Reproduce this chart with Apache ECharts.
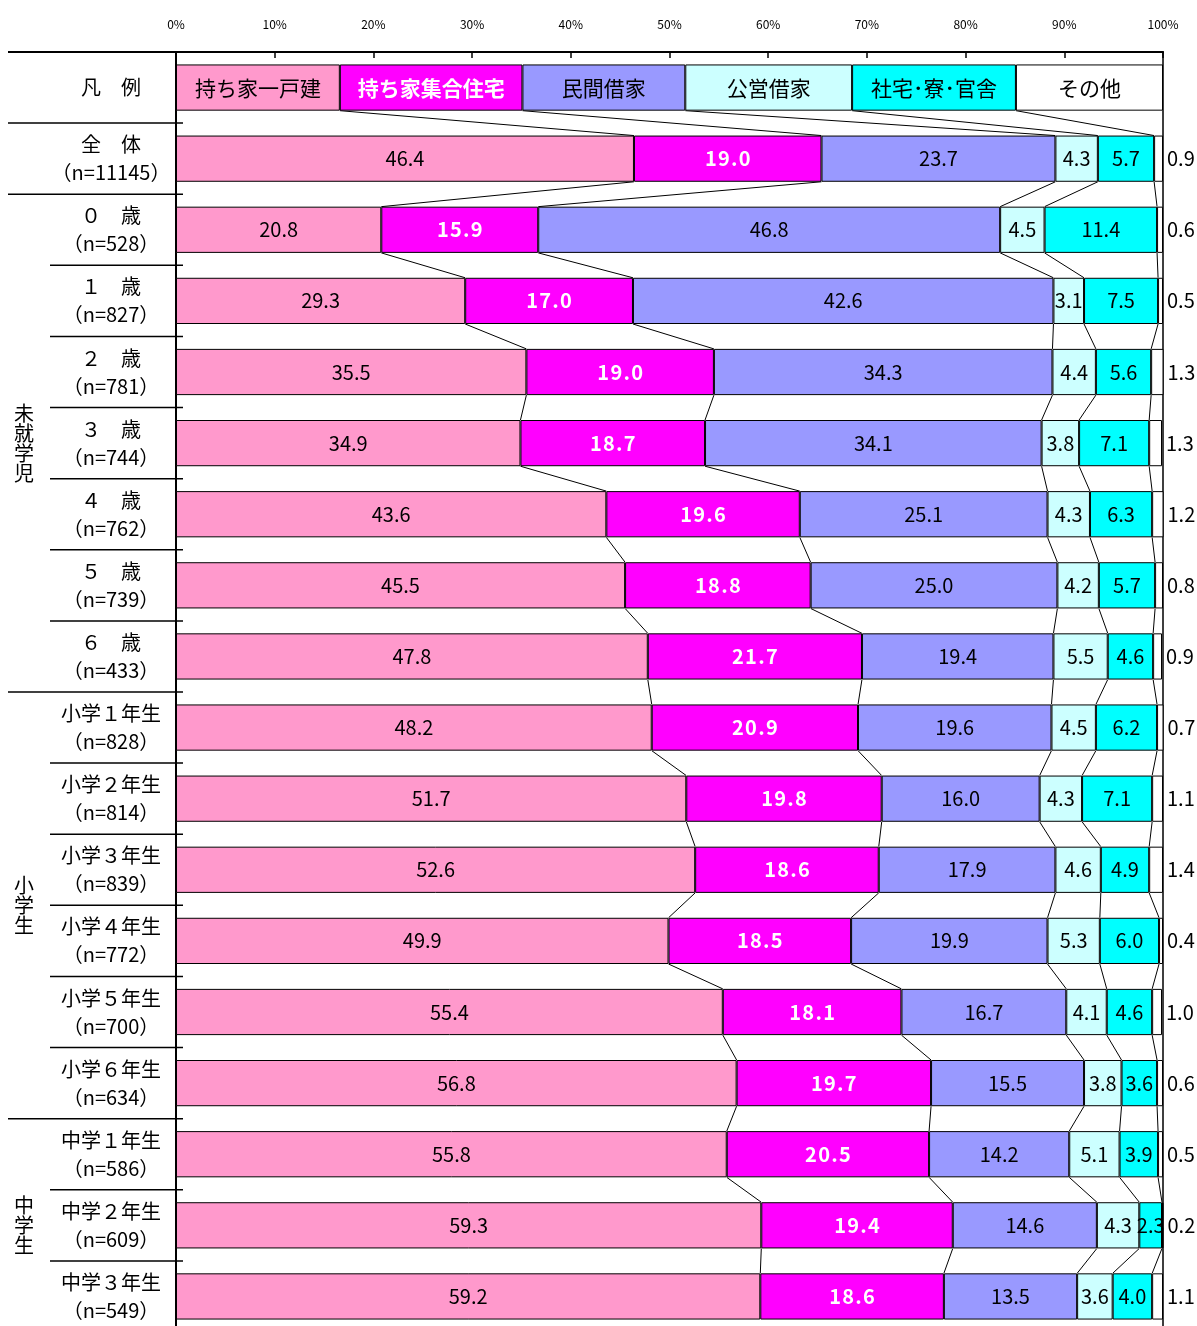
<!DOCTYPE html>
<html>
<head>
<meta charset="utf-8">
<script src="https://cdn.jsdelivr.net/npm/echarts@6/dist/echarts.min.js"></script>
<style>
  html, body { margin: 0; padding: 0; background: #fff; overflow: hidden; }
  #main { width: 1197px; height: 1340px; }
</style>
</head>
<body>
<div id="main"></div>
<script>
// Row labels (first row is the legend strip)
const categories = [
  '凡　例',
  '全　体\n（n=11145）',
  '０　歳\n（n=528）',
  '１　歳\n（n=827）',
  '２　歳\n（n=781）',
  '３　歳\n（n=744）',
  '４　歳\n（n=762）',
  '５　歳\n（n=739）',
  '６　歳\n（n=433）',
  '小学１年生\n（n=828）',
  '小学２年生\n（n=814）',
  '小学３年生\n（n=839）',
  '小学４年生\n（n=772）',
  '小学５年生\n（n=700）',
  '小学６年生\n（n=634）',
  '中学１年生\n（n=586）',
  '中学２年生\n（n=609）',
  '中学３年生\n（n=549）'
];

const seriesNames = ['持ち家一戸建', '持ち家集合住宅', '民間借家', '公営借家', '社宅･寮･官舎', 'その他'];

// Widths of the legend boxes along the top strip (%)
const legendWidths = [16.6, 18.5, 16.5, 16.9, 16.6, 14.9];

// Shares (%) for 全体, 0歳 … 中学3年生
const detached    = [46.4, 20.8, 29.3, 35.5, 34.9, 43.6, 45.5, 47.8, 48.2, 51.7, 52.6, 49.9, 55.4, 56.8, 55.8, 59.3, 59.2];
const condo       = [19.0, 15.9, 17.0, 19.0, 18.7, 19.6, 18.8, 21.7, 20.9, 19.8, 18.6, 18.5, 18.1, 19.7, 20.5, 19.4, 18.6];
const privateRent = [23.7, 46.8, 42.6, 34.3, 34.1, 25.1, 25.0, 19.4, 19.6, 16.0, 17.9, 19.9, 16.7, 15.5, 14.2, 14.6, 13.5];
const publicRent  = [4.3, 4.5, 3.1, 4.4, 3.8, 4.3, 4.2, 5.5, 4.5, 4.3, 4.6, 5.3, 4.1, 3.8, 5.1, 4.3, 3.6];
const company     = [5.7, 11.4, 7.5, 5.6, 7.1, 6.3, 5.7, 4.6, 6.2, 7.1, 4.9, 6.0, 4.6, 3.6, 3.9, 2.3, 4.0];
const other       = [0.9, 0.6, 0.5, 1.3, 1.3, 1.2, 0.8, 0.9, 0.7, 1.1, 1.4, 0.4, 1.0, 0.6, 0.5, 0.2, 1.1];

// Age-group brackets on the far left (row indices, inclusive)
const groups = [
  { name: '未就学児', first: 2, last: 8 },
  { name: '小学生', first: 9, last: 14 },
  { name: '中学生', first: 15, last: 17 }
];

const seriesValues = [detached, condo, privateRent, publicRent, company, other];
const colors = ['#FF99CC', '#FF00FF', '#9999FF', '#CCFFFF', '#00FFFF', '#FFFFFF'];
const FONT = '"Noto Sans CJK JP", "Noto Sans", sans-serif';
const BAR_RATIO = 0.65;

const GRID_LEFT = 176, GRID_TOP = 52, GRID_RIGHT = 34, GRID_HEIGHT = 1280;

// Rows of segment widths: legend strip first, then the data rows
const rows = [legendWidths].concat(detached.map((_, i) => seriesValues.map(s => s[i])));
// Cumulative inner boundaries per row
const cumRows = rows.map(r => {
  const out = [];
  let acc = 0;
  for (let k = 0; k < r.length - 1; k++) { acc += r[k]; out.push(acc); }
  return out;
});

// Spread the characters of the bold white labels slightly
const spaced = s => s.split('').join('\u200A');

const barSeries = seriesNames.map((name, k) => {
  const isCondo = k === 1;
  const isOther = k === seriesNames.length - 1;
  const valueLabel = {
    show: true,
    position: isOther ? 'right' : 'inside',
    distance: 4,
    fontFamily: FONT,
    fontSize: 20,
    color: isCondo ? '#fff' : '#000',
    fontWeight: isCondo ? 'bold' : 'normal',
    formatter: p => {
      const t = Number(p.value).toFixed(1);
      return isCondo ? spaced(t) : t;
    }
  };
  const legendItem = {
    value: legendWidths[k],
    label: {
      show: true,
      position: 'inside',
      fontFamily: FONT,
      fontSize: 21,
      color: isCondo ? '#fff' : '#000',
      fontWeight: isCondo ? 'bold' : 'normal',
      formatter: name
    }
  };
  return {
    type: 'bar',
    name: name,
    stack: 'total',
    barWidth: (BAR_RATIO * 100) + '%',
    itemStyle: { color: colors[k], borderColor: '#000', borderWidth: 1 },
    label: valueLabel,
    emphasis: { disabled: true },
    data: [legendItem].concat(seriesValues[k].map(v => ({ value: v })))
  };
});

// Series lines joining segment boundaries of consecutive rows
const connectorSeries = {
  type: 'custom',
  silent: true,
  clip: false,
  encode: { x: 0, y: 1 },
  data: rows.slice(0, -1).map((_, i) => [0, i]),
  renderItem: function (params, api) {
    const i = params.dataIndex;
    const half = api.size([0, 1])[1] * BAR_RATIO / 2;
    const children = [];
    for (let k = 0; k < cumRows[i].length; k++) {
      const a = api.coord([cumRows[i][k], i]);
      const b = api.coord([cumRows[i + 1][k], i + 1]);
      children.push({
        type: 'line',
        shape: { x1: a[0], y1: a[1] + half, x2: b[0], y2: b[1] - half },
        style: { stroke: '#000', lineWidth: 1 }
      });
    }
    return { type: 'group', children: children };
  }
};

const chart = echarts.init(document.getElementById('main'), null, { renderer: 'canvas' });

chart.setOption({
  animation: false,
  backgroundColor: '#fff',
  textStyle: { fontFamily: FONT },
  grid: {
    left: GRID_LEFT, right: GRID_RIGHT, top: GRID_TOP, height: GRID_HEIGHT,
    show: true, borderColor: '#000', borderWidth: 1.5, backgroundColor: 'transparent'
  },
  xAxis: {
    type: 'value',
    position: 'top',
    min: 0, max: 100, interval: 10,
    axisLine: { show: true, lineStyle: { color: '#000', width: 2 } },
    axisTick: { show: true, inside: true, length: 6, lineStyle: { color: '#000', width: 1.5 } },
    splitLine: { show: false },
    axisLabel: { formatter: '{value}%', color: '#000', fontSize: 12, fontFamily: FONT, margin: 22 }
  },
  yAxis: {
    type: 'category',
    inverse: true,
    data: categories,
    axisLine: { show: true, lineStyle: { color: '#000', width: 2 } },
    axisTick: { show: false },
    axisLabel: {
      color: '#000', fontSize: 20, fontFamily: FONT, lineHeight: 28,
      align: 'center', margin: 65
    }
  },
  series: barSeries.concat([connectorSeries])
});

// Row separators and group brackets on the left side
const c0 = chart.convertToPixel({ yAxisIndex: 0 }, 0);
const c1 = chart.convertToPixel({ yAxisIndex: 0 }, 1);
const band = c1 - c0;
const boundary = j => c0 - band / 2 + j * band;
const longBreaks = [0, 1, 2].concat(groups.map(g => g.last + 1));
const graphics = [];
for (let j = 0; j < categories.length; j++) {
  const isLong = longBreaks.indexOf(j) >= 0;
  graphics.push({
    type: 'line',
    silent: true,
    shape: { x1: isLong ? 8 : 50, y1: boundary(j), x2: GRID_LEFT + (j === 0 ? 0 : 7), y2: boundary(j) },
    style: { stroke: '#000', lineWidth: j === 0 ? 2 : 1.5 }
  });
}
groups.forEach(g => {
  const cy = (boundary(g.first) + boundary(g.last + 1)) / 2;
  graphics.push({
    type: 'text',
    silent: true,
    x: 24, y: cy,
    style: {
      text: g.name.split('').join('\n'),
      fontFamily: FONT, fontSize: 20, lineHeight: 20,
      fill: '#000', align: 'center', verticalAlign: 'middle'
    }
  });
});
chart.setOption({ graphic: graphics });
</script>
</body>
</html>
